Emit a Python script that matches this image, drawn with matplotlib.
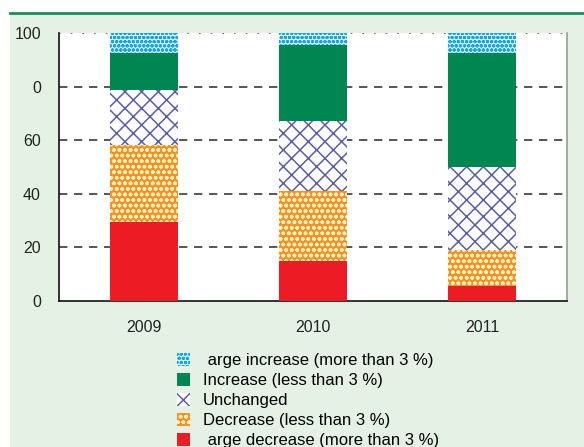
import numpy as np
import matplotlib.pyplot as plt
from matplotlib.patches import Rectangle
from matplotlib.lines import Line2D

years = ['2009', '2010', '2011']
large_decrease = [29.5, 15.0, 5.7]
decrease = [28.7, 26.0, 13.3]
unchanged = [20.5, 26.3, 31.1]
increase = [13.9, 28.2, 42.5]
large_increase = [7.4, 4.5, 7.4]

labels = [' arge increase (more than 3 %)', 'Increase (less than 3 %)', 'Unchanged',
          'Decrease (less than 3 %)', ' arge decrease (more than 3 %)']
yticks = [0, 20, 40, 60, 80, 100]
ytick_labels = ['0', '20', '40', '60', '0', '100']

plt.rcParams['font.family'] = ['Liberation Sans', 'DejaVu Sans']
plt.rcParams['hatch.linewidth'] = 1.1

fig = plt.figure(figsize=(5.84, 4.47), dpi=100)
fig.patch.set_facecolor('white')

# pale green panel with a green rule along its top
fig.patches.append(Rectangle((10 / 584, 0), 1, (447 - 13) / 447, transform=fig.transFigure,
                             facecolor='#e6f1e5', edgecolor='none', zorder=-10))
fig.add_artist(Line2D([10 / 584, 1], [(447 - 13) / 447] * 2, transform=fig.transFigure,
                      color='#13915a', lw=2))

ax = fig.add_axes([59 / 584, (447 - 301) / 447, 508 / 584, 268 / 447])
ax.set_facecolor('white')

x = np.arange(len(years))
w = 0.4
series = [
    (large_decrease, dict(color='#ed1c24')),
    (decrease, dict(facecolor='#f7901e', edgecolor='#fff0c0', hatch='ooo')),
    (unchanged, dict(facecolor='white', edgecolor='#5b5ca8', hatch='xx')),
    (increase, dict(color='#008751')),
    (large_increase, dict(facecolor='#e3f5fd', edgecolor='#12a8e8', hatch='oooo')),
]
bottom = np.zeros(len(years))
handles = []
for vals, style in series:
    b = ax.bar(x, vals, w, bottom=bottom, linewidth=0, zorder=3, **style)
    handles.append(b)
    bottom += np.array(vals)

for y in yticks[1:5]:
    ax.axhline(y, color='#3a3a3a', lw=1.2, ls=(0, (5, 4)), zorder=1)
ax.axhline(100, color='#555555', lw=1.2, ls=(0, (1, 6)), zorder=1)

ax.set_xlim(-0.5, 2.5)
ax.set_ylim(0, 100)
ax.set_xticks(x)
ax.set_xticklabels(years)
ax.set_yticks(yticks)
ax.set_yticklabels(ytick_labels)
ax.tick_params(length=0, labelsize=11.5, labelcolor='#222222', pad=13)
ax.tick_params(axis='x', pad=14)
for s in ['left', 'bottom']:
    ax.spines[s].set_color('#111111')
    ax.spines[s].set_linewidth(1.2)
ax.spines['top'].set_visible(False)
ax.spines['right'].set_color('#999999')
ax.spines['right'].set_linewidth(1.2)

fig.legend(handles[::-1], labels, loc='upper left', bbox_to_anchor=(169 / 584, 1 - 345 / 447),
           frameon=False, fontsize=12, handlelength=0.75, handleheight=0.75,
           labelspacing=0.3, handletextpad=0.8, borderpad=0)

fig.savefig('out.png', dpi=100, facecolor=fig.get_facecolor())
